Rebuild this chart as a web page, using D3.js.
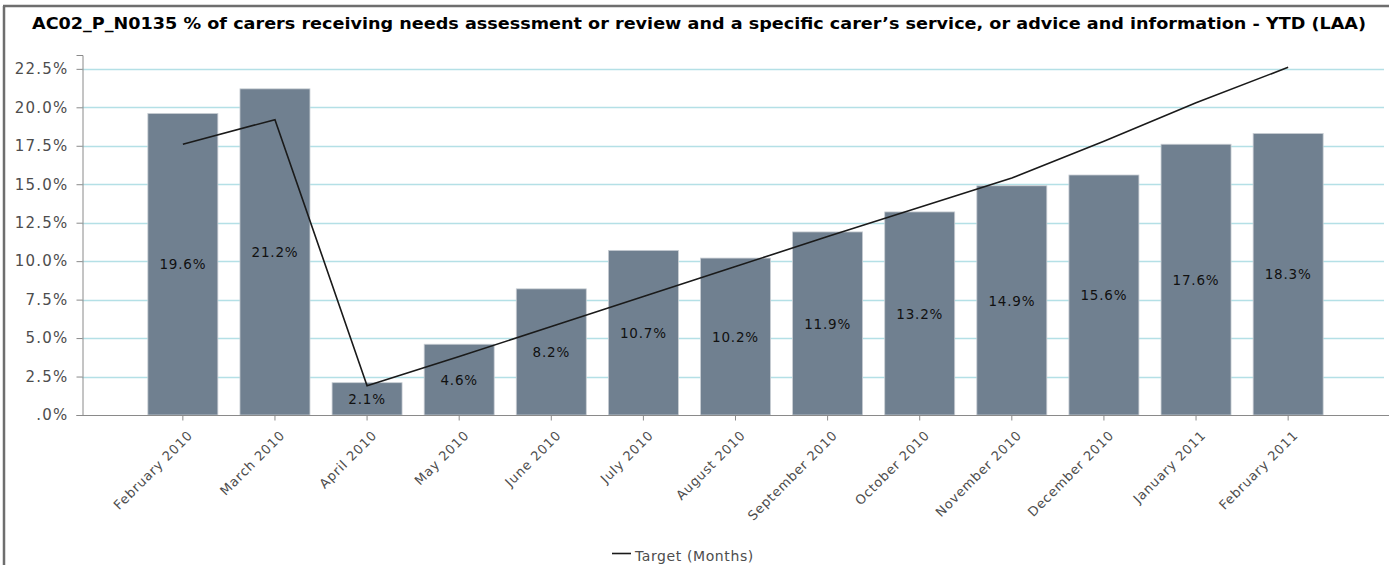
<!DOCTYPE html>
<html lang="en">
<head>
<meta charset="utf-8">
<title>AC02_P_N0135</title>
<script src="https://d3js.org/d3.v7.min.js"></script>
<style>
  body { margin: 0; background: #fff; }
  svg { display: block; font-family: "DejaVu Sans", Verdana, sans-serif; }
</style>
</head>
<body>
<svg id="chart" width="1389" height="565"></svg>
<script>
  // chart data
  var months = ["February 2010", "March 2010", "April 2010", "May 2010", "June 2010", "July 2010",
    "August 2010", "September 2010", "October 2010", "November 2010", "December 2010",
    "January 2011", "February 2011"];
  var actual = [19.6, 21.2, 2.1, 4.6, 8.2, 10.7, 10.2, 11.9, 13.2, 14.9, 15.6, 17.6, 18.3];
  var target = [17.6, 19.2, 1.9, 3.8, 5.75, 7.7, 9.65, 11.6, 13.5, 15.4, 17.8, 20.3, 22.6];
  var yTicks = [0, 2.5, 5, 7.5, 10, 12.5, 15, 17.5, 20, 22.5];
  var title = "AC02_P_N0135 % of carers receiving needs assessment or review and a specific carer\u2019s service, or advice and information - YTD (LAA)";
  var legendLabel = "Target (Months)";

  var svg = d3.select("#chart");
  var plotLeft = 82, plotRight = 1389, plotTop = 55, plotBottom = 415;

  // outer frame of the report panel
  svg.append("line").attr("x1", 4).attr("x2", 4).attr("y1", 6).attr("y2", 565)
    .attr("stroke", "#6e6e6e").attr("stroke-width", 2.5);
  svg.append("line").attr("x1", 3).attr("x2", 1389).attr("y1", 6).attr("y2", 6)
    .attr("stroke", "#6e6e6e").attr("stroke-width", 2.5);

  var x = d3.scaleBand().domain(months).range([plotLeft, plotRight])
    .paddingInner(0.24).paddingOuter(0.715);
  var y = d3.scaleLinear().domain([0, 23.4]).range([plotBottom, plotTop]);

  // title, stretched to the width of the original
  svg.append("text")
    .attr("x", 32).attr("y", 29)
    .attr("font-weight", "bold").attr("font-size", 15)
    .attr("fill", "#000")
    .attr("textLength", 1334).attr("lengthAdjust", "spacingAndGlyphs")
    .text(title);

  // horizontal gridlines
  svg.append("g")
    .selectAll("line")
    .data(yTicks.filter(function (d) { return d > 0; }))
    .enter().append("line")
    .attr("x1", plotLeft).attr("x2", 1384)
    .attr("y1", function (d) { return Math.round(y(d)) + 0.5; })
    .attr("y2", function (d) { return Math.round(y(d)) + 0.5; })
    .attr("stroke", "#b4e0e6").attr("stroke-width", 1.5);

  // y axis
  var yAxis = svg.append("g")
    .attr("transform", "translate(" + (plotLeft + 0.5) + ",0)")
    .call(d3.axisLeft(y).tickValues(yTicks).tickSize(6).tickPadding(8)
      .tickFormat(function (d) { return d === 0 ? ".0%" : d3.format(".1f")(d) + "%"; }));
  yAxis.select(".domain").attr("stroke", "#8a8a8a");
  yAxis.selectAll(".tick line").attr("stroke", "#8a8a8a");
  yAxis.selectAll("text").attr("font-size", 15).attr("fill", "#4d4d4d")
    .attr("letter-spacing", 1.2)
    .attr("font-family", "DejaVu Sans, sans-serif");

  // bars
  svg.append("g")
    .selectAll("rect")
    .data(actual)
    .enter().append("rect")
    .attr("x", function (d, i) { return x(months[i]); })
    .attr("y", function (d) { return y(d); })
    .attr("width", x.bandwidth())
    .attr("height", function (d) { return y(0) - y(d); })
    .attr("fill", "#708090")
    .attr("stroke", "#c9ced4").attr("stroke-width", 0.8);

  // x axis
  var xAxis = svg.append("g")
    .attr("transform", "translate(0," + (plotBottom + 0.5) + ")")
    .call(d3.axisBottom(x).tickSize(5).tickSizeOuter(0));
  xAxis.select(".domain").attr("stroke", "#8a8a8a").attr("d", "M" + plotLeft + ",0H" + plotRight);
  xAxis.selectAll(".tick line").attr("stroke", "#8a8a8a");
  xAxis.selectAll("text")
    .attr("font-size", 13).attr("fill", "#4d4d4d")
    .attr("letter-spacing", 0.8)
    .attr("font-family", "DejaVu Sans, sans-serif")
    .attr("text-anchor", "end")
    .attr("dy", 0)
    .attr("transform", "translate(5,15) rotate(-45)");

  // data labels in the middle of each bar
  svg.append("g")
    .selectAll("text")
    .data(actual)
    .enter().append("text")
    .attr("x", function (d, i) { return x(months[i]) + x.bandwidth() / 2; })
    .attr("y", function (d) { return (y(d) + y(0)) / 2; })
    .attr("dy", "0.38em")
    .attr("text-anchor", "middle")
    .attr("font-size", 13.5)
    .attr("letter-spacing", 0.8)
    .attr("fill", "#111")
    .text(function (d) { return d.toFixed(1) + "%"; });

  // target line
  var line = d3.line()
    .x(function (d, i) { return x(months[i]) + x.bandwidth() / 2; })
    .y(function (d) { return y(d); });
  svg.append("path")
    .datum(target)
    .attr("d", line)
    .attr("fill", "none")
    .attr("stroke", "#1a1a1a").attr("stroke-width", 1.6);

  // legend
  var lg = svg.append("g").attr("transform", "translate(612,553)");
  lg.append("line").attr("x1", 0).attr("x2", 19).attr("y1", 0.5).attr("y2", 0.5)
    .attr("stroke", "#1a1a1a").attr("stroke-width", 1.6);
  lg.append("text").attr("x", 23).attr("y", 8)
    .attr("font-size", 14).attr("fill", "#4d4d4d")
    .attr("letter-spacing", 0.6)
    .text(legendLabel);
</script>
</body>
</html>
